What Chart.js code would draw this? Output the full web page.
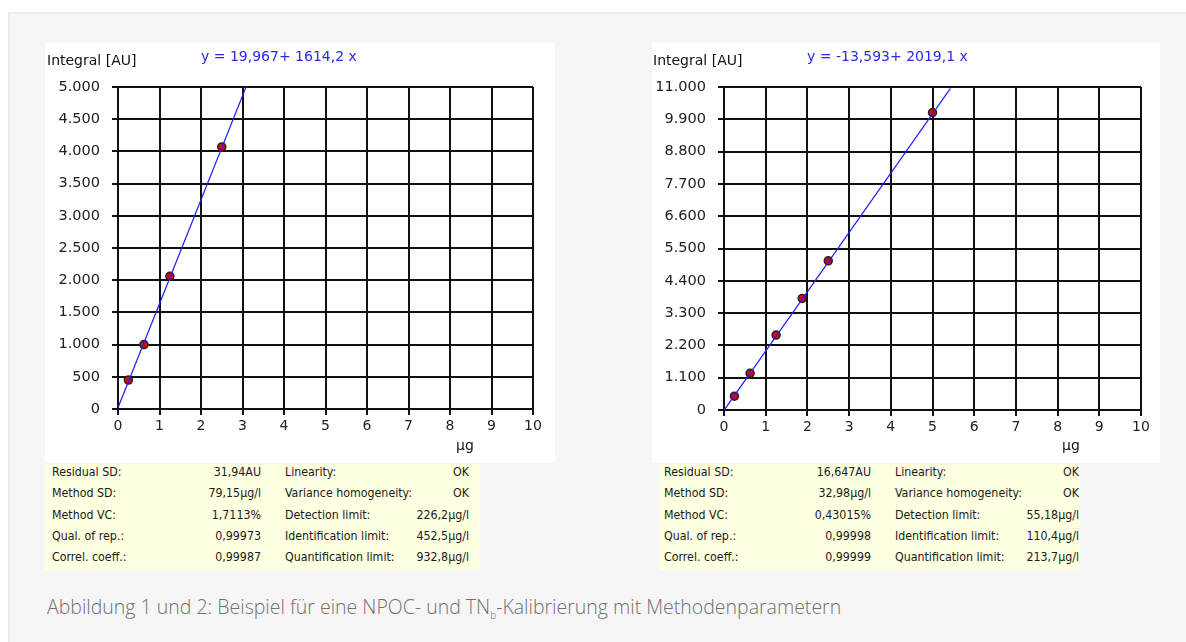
<!DOCTYPE html>
<html>
<head>
<meta charset="utf-8">
<script src="https://cdn.jsdelivr.net/npm/chart.js@4.4.0/dist/chart.umd.min.js"></script>
<style>
  body { margin: 0; background: #fff; width: 1186px; height: 642px; overflow: hidden; position: relative; }
  #panel { position: absolute; left: 8px; top: 12px; right: 0; bottom: 0; background: #f6f6f6; border-left: 2px solid #ebebeb; border-top: 2px solid #ebebeb; }
  .box { position: absolute; background: #fff; }
  .box canvas { position: absolute; left: 0; top: 0; }
  .lbl { position: absolute; font-family: "DejaVu Sans", sans-serif; font-size: 14px; color: #111; white-space: nowrap; }
  .eq { color: #2a2aee; }
  .tbl { position: absolute; background: #ffffe1; font-family: "DejaVu Sans Condensed", "DejaVu Sans", sans-serif; font-size: 12.3px; color: #1a1a1a; }
  .tbl div { position: absolute; white-space: nowrap; }
  .r { text-align: right; }
  #caption { position: absolute; left: 47px; top: 593px; font-family: "Open Sans", sans-serif; font-weight: 300; font-size: 19.5px; letter-spacing: 0; color: #707070; white-space: nowrap; }
  #caption sub { font-size: 10px; }
</style>
</head>
<body>
<div id="panel"></div>

<div class="box" style="left:45px;top:43px;width:510px;height:420px">
  <canvas id="npoc" width="510" height="420"></canvas>
  <div class="lbl" style="left:2px;top:9px">Integral [AU]</div>
  <div class="lbl eq" style="left:156px;top:5px">y = 19,967+ 1614,2 x</div>
  <div class="lbl" style="left:411px;top:394px">µg</div>
</div>
<div class="tbl" id="tbl1" style="left:45px;top:464px;width:434px;height:106px"></div>

<div class="box" style="left:652px;top:43px;width:508px;height:420px">
  <canvas id="tnb" width="508" height="420"></canvas>
  <div class="lbl" style="left:1px;top:9px">Integral [AU]</div>
  <div class="lbl eq" style="left:155px;top:5px">y = -13,593+ 2019,1 x</div>
  <div class="lbl" style="left:410px;top:394px">µg</div>
</div>
<div class="tbl" id="tbl2" style="left:660px;top:464px;width:420px;height:106px"></div>

<div id="caption">Abbildung 1 und 2: Beispiel für eine NPOC- und TN<sub>b</sub>-Kalibrierung mit Methodenparametern</div>

<script>
// calibration points
const npocX = [0.25, 0.625, 1.25, 2.5];
const npocY = [450, 1000, 2060, 4070];
const npocFitX = [0, 3.085];
const npocFitY = [20, 5000];

const tnbX = [0.25, 0.625, 1.25, 1.875, 2.5, 5];
const tnbY = [470, 1250, 2550, 3800, 5080, 10130];
const tnbFitX = [0, 5.43];
const tnbFitY = [-14, 10950];

const xTicks = [0, 1, 2, 3, 4, 5, 6, 7, 8, 9, 10];

const table1Labels = ["Residual SD:", "Method SD:", "Method VC:", "Qual. of rep.:", "Correl. coeff.:"];
const table1Values = ["31,94AU", "79,15µg/l", "1,7113%", "0,99973", "0,99987"];
const table1Labels2 = ["Linearity:", "Variance homogeneity:", "Detection limit:", "Identification limit:", "Quantification limit:"];
const table1Values2 = ["OK", "OK", "226,2µg/l", "452,5µg/l", "932,8µg/l"];

const table2Values = ["16,647AU", "32,98µg/l", "0,43015%", "0,99998", "0,99999"];
const table2Values2 = ["OK", "OK", "55,18µg/l", "110,4µg/l", "213,7µg/l"];

function fmt(v) {
  // german thousands separator
  return String(v).replace(/\B(?=(\d{3})+(?!\d))/g, ".");
}

function pairs(xs, ys) {
  return xs.map((x, i) => ({ x: x, y: ys[i] }));
}

function makeChart(id, xs, ys, fx, fy, yMax, yStep, yWidth, padRight, xHeight) {
  const ctx = document.getElementById(id).getContext("2d");
  return new Chart(ctx, {
    type: 'scatter',
    data: {
      datasets: [{
        data: pairs(fx, fy),
        showLine: true,
        borderColor: '#1f1fff',
        borderWidth: 1.2,
        pointRadius: 0
      }, {
        data: pairs(xs, ys),
        backgroundColor: '#e00000',
        borderColor: '#222',
        borderWidth: 1.5,
        pointRadius: 4
      }]
    },
    options: {
      responsive: false,
      animation: false,
      layout: { padding: { top: 44, right: padRight, left: 0, bottom: 0 } },
      plugins: { legend: { display: false }, tooltip: { enabled: false } },
      scales: {
        x: {
          type: 'linear', min: 0, max: 10,
          afterBuildTicks: s => { s.ticks = xTicks.map(v => ({ value: v })); },
          afterFit: s => { s.height = xHeight; },
          grid: { color: '#111', lineWidth: 2, tickLength: 6 },
          border: { color: '#111', width: 2 },
          ticks: { color: '#222', padding: 3, maxRotation: 0, font: { family: 'DejaVu Sans', size: 14 } }
        },
        y: {
          min: 0, max: yMax,
          afterFit: s => { s.width = yWidth; },
          grid: { color: '#111', lineWidth: 2, tickLength: 6 },
          border: { color: '#111', width: 2 },
          ticks: { stepSize: yStep, color: '#222', padding: 12, callback: v => fmt(v), font: { family: 'DejaVu Sans', size: 14.5 } }
        }
      }
    }
  });
}

makeChart("npoc", npocX, npocY, npocFitX, npocFitY, 5000, 500, 73, 22, 54);
makeChart("tnb", tnbX, tnbY, tnbFitX, tnbFitY, 11000, 1100, 72, 19, 53);

function fillTable(id, l1, v1, l2, v2, c) {
  const el = document.getElementById(id);
  let html = "";
  for (let i = 0; i < l1.length; i++) {
    const top = 1 + i * 21.3;
    html += `<div style="left:${c[0]}px;top:${top}px">${l1[i]}</div>`;
    html += `<div class="r" style="right:${c[1]}px;top:${top}px">${v1[i]}</div>`;
    html += `<div style="left:${c[2]}px;top:${top}px">${l2[i]}</div>`;
    html += `<div class="r" style="right:${c[3]}px;top:${top}px">${v2[i]}</div>`;
  }
  el.innerHTML = html;
}

fillTable("tbl1", table1Labels, table1Values, table1Labels2, table1Values2, [7, 218, 240, 10]);
fillTable("tbl2", table1Labels, table2Values, table1Labels2, table2Values2, [4, 209, 235, 1]);
</script>
</body>
</html>
